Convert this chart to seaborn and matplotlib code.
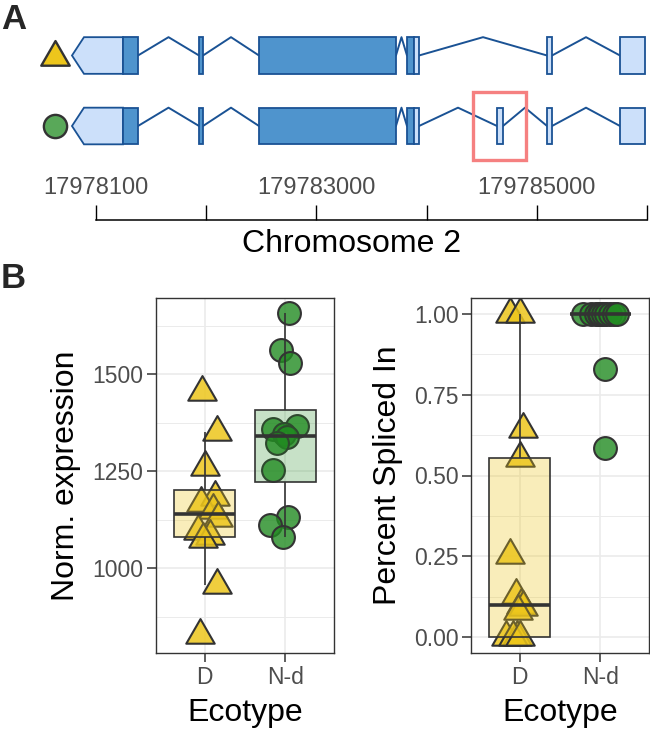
import matplotlib
matplotlib.use("Agg")
import numpy as np
import pandas as pd
import matplotlib.pyplot as plt
import seaborn as sns
from matplotlib.colors import to_rgba
from matplotlib.patches import Rectangle, Polygon
from matplotlib.path import Path
from matplotlib.transforms import blended_transform_factory

# ---------------- panel A : gene models (genomic coordinates, bp) ----------------
ruler_ticks = [179781000, 179782000, 179783000, 179784000, 179785000, 179786000]
ruler_labels = ["17978100", "", "179783000", "", "179785000", ""]

cds_start = 179781245
cds_end = 179783886

exon_start_d = [179780782, 179781935, 179782479, 179783822, 179785093, 179785755]
exon_end_d = [179781381, 179781971, 179783722, 179783931, 179785138, 179785982]
exon_start_nd = [179780782, 179781935, 179782479, 179783822, 179784639, 179785093, 179785755]
exon_end_nd = [179781381, 179781971, 179783722, 179783931, 179784693, 179785138, 179785982]

highlight_start = 179784421
highlight_end = 179784902

# ---------------- panel B : expression and PSI ----------------
ecotypes = ["D", "N-d"]

expr_d = [1455, 1351, 1260, 1183, 1168, 1150, 1128, 1095, 1082, 1075, 956, 827]
expr_nd = [1657, 1562, 1528, 1366, 1358, 1345, 1338, 1322, 1253, 1131, 1111, 1080]

psi_d = [1.0, 1.0, 0.645, 0.555, 0.254, 0.13, 0.10, 0.093, 0.08, 0.0, 0.0, 0.0, 0.0]
psi_nd = [1.0, 1.0, 1.0, 1.0, 1.0, 1.0, 1.0, 1.0, 1.0, 1.0, 0.83, 0.585]

# jitter used in the original figure (horizontal offsets, category units)
jit_expr_d = [-0.03, 0.15, 0.0, 0.13, -0.05, 0.10, 0.17, -0.08, 0.07, -0.02, 0.16, -0.06]
jit_expr_nd = [0.04, -0.05, 0.06, 0.14, -0.16, -0.02, 0.02, -0.11, -0.15, 0.03, -0.19, -0.03]
jit_psi_d = [-0.12, 0.01, 0.04, 0.01, -0.12, -0.05, 0.02, 0.04, -0.02, -0.17, -0.03, -0.08, 0.0]
jit_psi_nd = [-0.22, -0.12, -0.06, -0.02, 0.0, 0.03, 0.07, 0.12, 0.17, 0.21, 0.05, 0.05]

# ---------------- style ----------------
W, H = 650, 731
col_d = "#EDC61C"
col_nd = "#228B22"
edge_col = "#333333"
cds_col = "#4F94CD"
utr_col = "#CCE0FA"
gene_edge = "#1A5294"
hl_col = "#F58080"

tri = Path([(-1, -0.577), (1, -0.577), (0, 1.155), (-1, -0.577)],
           [Path.MOVETO, Path.LINETO, Path.LINETO, Path.CLOSEPOLY])

sns.set_style("white")
plt.rcParams["font.family"] = ["Liberation Sans", "DejaVu Sans"]

fig = plt.figure(figsize=(W / 100, H / 100), dpi=100)


def px_axes(x0, y0, x1, y1):
    return fig.add_axes([x0 / W, 1 - y1 / H, (x1 - x0) / W, (y1 - y0) / H])


bp_per_px = (ruler_ticks[-1] - ruler_ticks[0]) / (647 - 96)

# gene model axes
ax_a = px_axes(40, 20, 650, 165)
ax_a.set_xlim(ruler_ticks[0] - (96 - 40) * bp_per_px, ruler_ticks[0] + (650 - 96) * bp_per_px)
ax_a.set_ylim(-(165 - 126) / 70.5, 1 + (55.5 - 20) / 70.5)
ax_a.axis("off")

half_h = 0.26
head = 12 * bp_per_px


def draw_transcript(ax, starts, ends, y):
    # introns as chevrons
    for e, s in zip(ends[:-1], starts[1:]):
        mid = (e + s) / 2
        ax.plot([e, mid, s], [y, y + half_h, y], color=gene_edge, lw=1.4, zorder=1)
    for k, (s, e) in enumerate(zip(starts, ends)):
        pieces = []
        if s < cds_start:
            pieces.append((s, min(e, cds_start), utr_col))
        if e > cds_start and s < cds_end:
            pieces.append((max(s, cds_start), min(e, cds_end), cds_col))
        if e > cds_end:
            pieces.append((max(s, cds_end), e, utr_col))
        for ps, pe, c in pieces:
            if k == 0 and ps == s:
                # first exon carries the strand arrow (minus strand)
                poly = Polygon([(ps, y), (ps + head, y + half_h), (pe, y + half_h),
                                (pe, y - half_h), (ps + head, y - half_h)],
                               closed=True, facecolor=c, edgecolor=gene_edge, lw=1.3, zorder=2)
                ax.add_patch(poly)
            else:
                ax.add_patch(Rectangle((ps, y - half_h), pe - ps, 2 * half_h,
                                       facecolor=c, edgecolor=gene_edge, lw=1.3, zorder=2))


draw_transcript(ax_a, exon_start_d, exon_end_d, 1)
draw_transcript(ax_a, exon_start_nd, exon_end_nd, 0)
ax_a.add_patch(Rectangle((highlight_start, -0.48), highlight_end - highlight_start, 0.96,
                         fill=False, edgecolor=hl_col, lw=2.4, zorder=3))

key_tr = blended_transform_factory(ax_a.transAxes, ax_a.transData)
ax_a.scatter([(55 - 40) / 610], [0.98], marker=tri, s=560, transform=key_tr,
             facecolor=col_d, edgecolor=edge_col, linewidth=1.7, clip_on=False, zorder=4)
ax_a.scatter([(55 - 40) / 610], [0], marker="o", s=280, transform=key_tr,
             facecolor=to_rgba(col_nd, 0.75), edgecolor=edge_col, linewidth=1.7, clip_on=False, zorder=4)

# ruler axis
ax_r = px_axes(96, 205, 647, 220)
ax_r.set_xlim(ruler_ticks[0], ruler_ticks[-1])
ax_r.set_yticks([])
for side in ["top", "left", "right"]:
    ax_r.spines[side].set_visible(False)
ax_r.spines["bottom"].set_color("black")
ax_r.spines["bottom"].set_linewidth(1.1)
ax_r.set_xticks(ruler_ticks)
ax_r.set_xticklabels(ruler_labels)
ax_r.tick_params(axis="x", direction="in", length=10.8, width=1.0, color="black",
                 bottom=True, top=False, labelbottom=False, labeltop=True,
                 labelsize=17, labelcolor="#4D4D4D", pad=4)
ax_r.patch.set_alpha(0)
ax_r.set_xlabel("Chromosome 2", fontsize=23, color="black")
ax_r.xaxis.set_label_position("bottom")
ax_r.xaxis.set_label_coords((352 - 96) / 551, -0.6)

# ---------------- panel B ----------------
def style_panel(ax, yticks, minor):
    ax.set_xlim(-0.6, 1.6)
    ax.set_xticks([0, 1])
    ax.set_xticklabels(ecotypes)
    ax.set_yticks(yticks)
    ax.set_yticks(minor, minor=True)
    ax.grid(True, which="major", color="#EBEBEB", lw=1.2, zorder=0)
    ax.grid(True, which="minor", axis="y", color="#EBEBEB", lw=0.7, zorder=0)
    ax.set_axisbelow(True)
    for sp in ax.spines.values():
        sp.set_visible(True)
        sp.set_color(edge_col)
        sp.set_linewidth(1.0)
        sp.set_zorder(6)
    ax.tick_params(axis="both", which="major", length=6.5, width=1.1, color=edge_col,
                   labelsize=16.5, labelcolor="#4D4D4D", pad=2.5, left=True, bottom=True)
    ax.tick_params(axis="both", which="minor", length=0)
    ax.set_xlabel("Ecotype", fontsize=23, color="black", labelpad=7)


def draw_box_points(ax, vals_d, vals_nd, jit_d, jit_nd):
    df = pd.DataFrame({"Ecotype": ["D"] * len(vals_d) + ["N-d"] * len(vals_nd),
                       "value": vals_d + vals_nd})
    # points first, box drawn over them (as in the original)
    sns.scatterplot(x=[0 + j for j in jit_d], y=vals_d, marker=tri, s=560,
                    color=col_d, edgecolor=edge_col, linewidth=1.5, ax=ax, zorder=2)
    ax.collections[-1].set_facecolor(to_rgba(col_d, 0.85))
    sns.scatterplot(x=[1 + j for j in jit_nd], y=vals_nd, marker="o", s=270,
                    color=col_nd, edgecolor=edge_col, linewidth=1.5, ax=ax, zorder=2)
    ax.collections[-1].set_facecolor(to_rgba(col_nd, 0.8))
    sns.boxplot(data=df, x="Ecotype", y="value", order=ecotypes, hue="Ecotype",
                palette={"D": col_d, "N-d": col_nd}, legend=False, width=0.75,
                showfliers=False, showcaps=False, linecolor=edge_col, linewidth=1.2,
                medianprops=dict(linewidth=2.6, color=edge_col), ax=ax)
    for patch, c in zip(ax.patches, [col_d, col_nd]):
        patch.set_facecolor(to_rgba(c, 0.3 if c == col_d else 0.25))
        patch.set_edgecolor(edge_col)
        patch.set_zorder(3)
    for line in ax.lines:
        line.set_zorder(4)


ax_l = px_axes(156, 298, 334, 653)
draw_box_points(ax_l, expr_d, expr_nd, jit_expr_d, jit_expr_nd)
style_panel(ax_l, [1000, 1250, 1500], [875, 1125, 1375, 1625])
ax_l.set_ylim(781, 1696)
ax_l.set_ylabel("Norm. expression", fontsize=23, color="black", labelpad=8)

ax_p = px_axes(471, 298, 649, 653)
draw_box_points(ax_p, psi_d, psi_nd, jit_psi_d, jit_psi_nd)
style_panel(ax_p, [0, 0.25, 0.5, 0.75, 1.0], [0.125, 0.375, 0.625, 0.875])
ax_p.set_yticklabels(["0.00", "0.25", "0.50", "0.75", "1.00"])
ax_p.set_ylim(-0.05, 1.05)
ax_p.set_ylabel("Percent Spliced In", fontsize=23, color="black", labelpad=8)

fig.text(1 / W, 1 - 3 / H, "A", fontsize=25, fontweight="bold", ha="left", va="top")
fig.text(1 / W, 1 - 262 / H, "B", fontsize=25, fontweight="bold", ha="left", va="top")

fig.savefig("out.png", dpi=100)
